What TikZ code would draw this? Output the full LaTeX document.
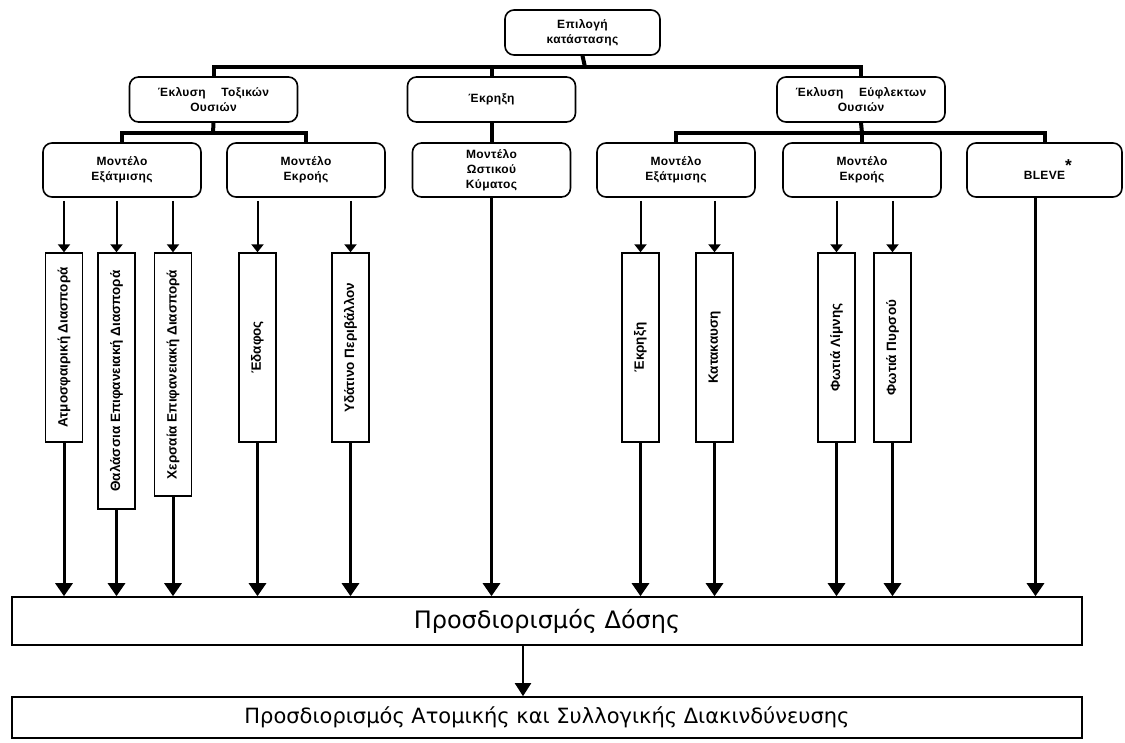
\documentclass[tikz,border=0pt]{standalone}
\usepackage{fontspec}
\usepackage{graphicx}
\setmainfont{Liberation Sans}
\newfontfamily\labelfont[LetterSpace=3]{Liberation Sans}
\newfontfamily\resultfont{DejaVu Sans}
\usetikzlibrary{arrows.meta, positioning}

\begin{document}
\begin{tikzpicture}[
  x=1pt, y=1pt,
  choice/.style={rectangle, rounded corners=9pt, draw, line width=1.6pt, minimum width=168pt, minimum height=45pt, align=center, inner sep=2pt, font=\labelfont\bfseries\fontsize{12}{15}\selectfont},
  model/.style={choice, minimum width=158pt, minimum height=54pt},
  route/.style={rectangle, draw, line width=1.4pt, minimum width=37pt, inner sep=0pt, font=\bfseries\fontsize{13.5}{15}\selectfont},
  result/.style={rectangle, draw, line width=1.6pt, minimum width=1070pt, font=\resultfont\fontsize{21}{24}\selectfont},
  bus/.style={line width=4pt},
  feed/.style={line width=2pt, shorten <=3pt, -{Triangle[width=12pt,length=8pt]}},
  drop/.style={line width=3pt, -{Triangle[width=17pt,length=13pt]}}
]
  \useasboundingbox (0,0) rectangle (1125,-742);

  \node[choice, minimum width=155pt] (sel) at (582.5,-32.5) {Επιλογή\\κατάστασης};

  \node[choice] (tox) at (213.5,-99.5) {Έκλυση\quad\ Τοξικών\\Ουσιών};
  \node[choice] (expl) at (491.5,-99.5) {Έκρηξη};
  \node[choice] (flam) at (861,-99.5) {Έκλυση\quad\ Εύφλεκτων\\Ουσιών};

  \node[model] (evapL) at (122,-170) {Μοντέλο\\Εξάτμισης};
  \node[model] (outL) at (306,-170) {Μοντέλο\\Εκροής};
  \node[model] (blast) at (491.5,-170) {Μοντέλο\\Ωστικού\\Κύματος};
  \node[model] (evapR) at (676,-170) {Μοντέλο\\Εξάτμισης};
  \node[model] (outR) at (862,-170) {Μοντέλο\\Εκροής};
  \node[model, minimum width=155pt] (bleve) at (1044.5,-170) {BLEVE\rlap{\raisebox{8pt}{\LARGE *}}};

  \node[route, minimum height=189pt] (atm) at (64,-347.5) {\rotatebox{90}{Ατμοσφαιρική Διασπορά}};
  \node[route, minimum height=256pt] (sea) at (116.5,-381) {\rotatebox{90}{Θαλάσσια Επιφανειακή Διασπορά}};
  \node[route, minimum height=243pt] (land) at (173,-374.5) {\rotatebox{90}{Χερσαία Επιφανειακή Διασπορά}};
  \node[route, minimum height=189pt] (soil) at (257.5,-347.5) {\rotatebox{90}{Έδαφος}};
  \node[route, minimum height=189pt] (water) at (350.5,-347.5) {\rotatebox{90}{Υδάτινο Περιβάλλον}};
  \node[route, minimum height=189pt] (exR) at (640.5,-347.5) {\rotatebox{90}{Έκρηξη}};
  \node[route, minimum height=189pt] (burn) at (714.5,-347.5) {\rotatebox{90}{Κατακαυση}};
  \node[route, minimum height=189pt] (pool) at (836.5,-347.5) {\rotatebox{90}{Φωτιά Λίμνης}};
  \node[route, minimum height=189pt] (jet) at (892.5,-347.5) {\rotatebox{90}{Φωτιά Πυρσού}};

  \node[result, minimum height=48pt, font=\resultfont\fontsize{24}{26}\selectfont] (dose) at (547,-621) {Προσδιορισμός Δόσης};
  \node[result, minimum height=41pt] (risk) at (547,-717.5) {Προσδιορισμός Ατομικής και Συλλογικής Διακινδύνευσης};

  \coordinate (j0) at (585,-67);
  \coordinate (j1) at (213,-133);
  \coordinate (j2) at (862,-133);

  \draw[bus] (sel.south) -- (j0);
  \draw[bus] (tox.north) |- (j0) -| (flam.north);
  \draw[bus] (expl.north) -- (expl.north |- j0);
  \draw[bus] (tox.south) -- (j1);
  \draw[bus] (evapL.north) |- (j1) -| (outL.north);
  \draw[bus] (flam.south) -- (j2);
  \draw[bus] (evapR.north) |- (j2) -| (bleve.north);
  \draw[bus] (outR.north) -- (outR.north |- j2);
  \draw[bus] (expl.south) -- (blast.north);

  \foreach \src/\dst in {evapL/atm, evapL/sea, evapL/land, outL/soil, outL/water, evapR/exR, evapR/burn, outR/pool, outR/jet}
    \draw[feed] (\src.south -| \dst.north) -- (\dst.north);

  \foreach \src in {atm, sea, land, soil, water, blast, exR, burn, pool, jet}
    \draw[drop] (\src.south) -- (\src.south |- dose.north);
  \draw[drop] ([xshift=-9pt]bleve.south) -- ([xshift=-9pt]bleve.south |- dose.north);

  \draw[line width=2pt, -{Triangle[width=16pt,length=13pt]}] ([xshift=-24pt]dose.south) -- ([xshift=-24pt]risk.north);

\end{tikzpicture}
\end{document}
